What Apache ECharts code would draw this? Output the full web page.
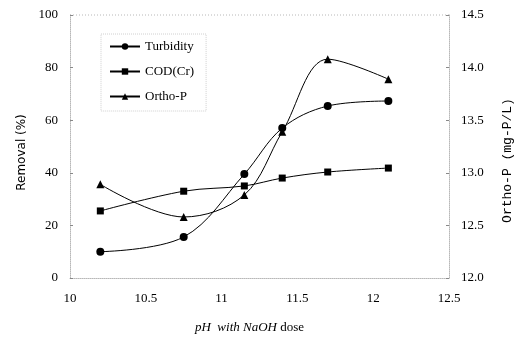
<!DOCTYPE html>
<html>
<head>
<meta charset="utf-8">
<script src="https://cdn.jsdelivr.net/npm/echarts@6/dist/echarts.min.js"></script>
<style>
html,body{margin:0;padding:0;background:#fff;}
#main{width:515px;height:339px;}
</style>
</head>
<body>
<div id="main"></div>
<script>
// pH values and removal data
var phValues = [10.2, 10.75, 11.15, 11.4, 11.7, 12.1];
var turbidity = [10, 15.6, 39.5, 57, 65.4, 67.3];
var codCr = [25.5, 33, 35, 38, 40.3, 41.8];
var orthoP = [12.89, 12.58, 12.79, 13.39, 14.08, 13.89];

function pairs(xs, ys){
	var out = new Array();
	for(var i = 0; i < xs.length; i++){
		out.push([xs[i], ys[i]]);
	}
	return out;
}

var fontName = 'Liberation Serif';
var faint = '#b8b8b8';

var myChart = echarts.init(document.getElementById('main'));
var option = {
	backgroundColor: '#fff',
	animation: false,
	textStyle: {fontFamily: fontName, color: '#000'},
	grid: {left: 70, right: 66, top: 15, bottom: 61, outerBoundsMode: 'none'},
	legend: {
		orient: 'vertical',
		left: 101,
		top: 34,
		itemWidth: 30,
		itemHeight: 8,
		itemGap: 12,
		padding: [6, 12, 8, 8],
		borderColor: '#d0d0d0',
		borderWidth: 1,
		borderType: 'dotted',
		textStyle: {fontFamily: fontName, fontSize: 13, color: '#000'},
		data: ['Turbidity', 'COD(Cr)', 'Ortho-P']
	},
	xAxis: {
		type: 'value',
		min: 10,
		max: 12.5,
		interval: 0.5,
		name: '{i|pH  with NaOH} dose',
		nameLocation: 'middle',
		nameGap: 43,
		nameTextStyle: {
			fontFamily: fontName, fontSize: 13, color: '#000',
			padding: [0, 20, 0, 0],
			rich: {i: {fontFamily: fontName, fontStyle: 'italic', fontSize: 13, color: '#000'}}
		},
		axisLine: {lineStyle: {color: faint, type: 'dotted'}},
		axisTick: {show: false},
		axisLabel: {fontFamily: fontName, fontSize: 13, color: '#000', margin: 14},
		splitLine: {show: false}
	},
	yAxis: [
		{
			type: 'value',
			min: 0,
			max: 100,
			interval: 20,
			name: 'Removal (%)',
			nameLocation: 'middle',
			nameGap: 42,
			nameRotate: 90,
			nameTextStyle: {fontFamily: 'DejaVu Sans', fontSize: 12, color: '#000', padding: [0, 12, 0, 0]},
			axisLine: {show: true, lineStyle: {color: faint, type: 'dotted'}},
			axisTick: {show: true, length: 3, inside: true, lineStyle: {color: '#888'}},
			axisLabel: {fontFamily: fontName, fontSize: 13, color: '#000', margin: 12},
			splitLine: {show: false}
		},
		{
			type: 'value',
			min: 12,
			max: 14.5,
			interval: 0.5,
			name: 'Ortho-P (mg-P/L)',
			nameLocation: 'middle',
			nameGap: 52,
			nameRotate: 90,
			nameTextStyle: {fontFamily: 'Liberation Mono', fontSize: 13, color: '#000', padding: [0, 28, 0, 0]},
			axisLine: {show: true, lineStyle: {color: faint, type: 'dotted'}},
			axisTick: {show: true, length: 3, inside: true, lineStyle: {color: '#888'}},
			axisLabel: {fontFamily: fontName, fontSize: 13, color: '#000', margin: 12,
				formatter: function(v){ return v.toFixed(1); }},
			splitLine: {show: false}
		}
	],
	series: [
		{
			name: 'Turbidity',
			type: 'line',
			smooth: 0.35,
			symbol: 'circle',
			symbolSize: 8,
			lineStyle: {color: '#000', width: 1},
			itemStyle: {color: '#000'},
			data: pairs(phValues, turbidity)
		},
		{
			name: 'COD(Cr)',
			type: 'line',
			smooth: 0.35,
			symbol: 'rect',
			symbolSize: 7,
			lineStyle: {color: '#000', width: 1},
			itemStyle: {color: '#000'},
			data: pairs(phValues, codCr)
		},
		{
			name: 'Ortho-P',
			type: 'line',
			yAxisIndex: 1,
			smooth: 0.35,
			symbol: 'triangle',
			symbolSize: 8,
			lineStyle: {color: '#000', width: 1},
			itemStyle: {color: '#000'},
			data: pairs(phValues, orthoP)
		}
	],
	graphic: [
		// faint dotted top frame line
		{
			type: 'line',
			shape: {x1: 70, y1: 15, x2: 449, y2: 15},
			style: {stroke: faint, lineDash: [1, 2], lineWidth: 1}
		}
	]
};
myChart.setOption(option);
</script>
</body>
</html>
